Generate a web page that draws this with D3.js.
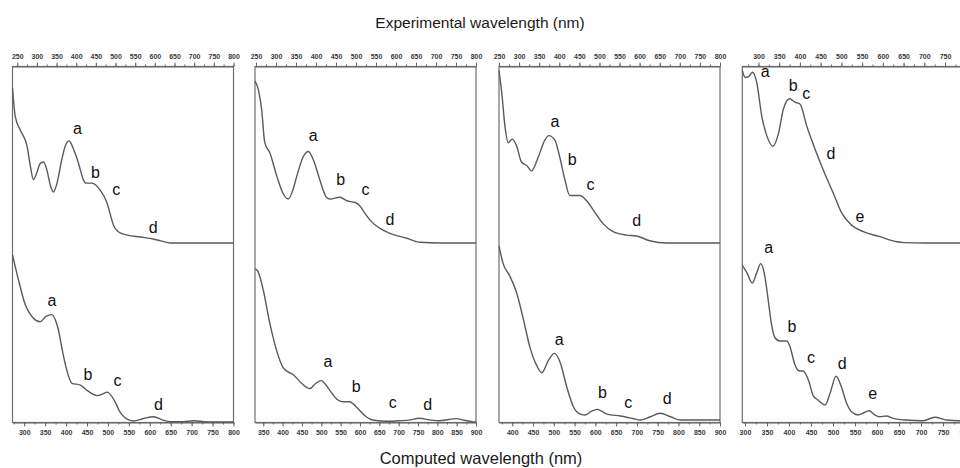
<!DOCTYPE html>
<html>
<head>
<meta charset="utf-8">
<script src="https://cdn.jsdelivr.net/npm/d3@7"></script>
<style>
  body { margin: 0; background: #fff; }
  svg { display: block; font-family: "Liberation Sans", Arial, sans-serif; }
  .axis path, .axis line { stroke: #666; }
  .axis text { fill: #3a3a3a; font-size: 7px; font-weight: bold; }
</style>
</head>
<body>
<div id="chart"></div>
<script>
// Wavelength windows of each panel (nm): experimental on top, computed below
var expDomains = [[238, 800], [247.5, 800], [250, 800], [261, 794]];
var compDomains = [[272, 800], [328.6, 900], [368, 900], [294, 796]];

// Tick labels
var expTicks1 = [250, 300, 350, 400, 450, 500, 550, 600, 650, 700, 750, 800];
var expTicks2 = [250, 300, 350, 400, 450, 500, 550, 600, 650, 700, 750, 800];
var expTicks3 = [250, 300, 350, 400, 450, 500, 550, 600, 650, 700, 750, 800];
var expTicks4 = [300, 350, 400, 450, 500, 550, 600, 650, 700, 750, 800];
var compTicks1 = [300, 350, 400, 450, 500, 550, 600, 650, 700, 750, 800];
var compTicks2 = [350, 400, 450, 500, 550, 600, 650, 700, 750, 800, 850, 900];
var compTicks3 = [400, 450, 500, 550, 600, 650, 700, 750, 800, 850, 900];
var compTicks4 = [300, 350, 400, 450, 500, 550, 600, 650, 700, 750, 800];

// Spectra: [wavelength nm, relative absorbance]
var exp1 = [[238, .88], [245, .72], [258, .64], [275, .55], [284, .43], [291, .36], [300, .40], [308, .45],
  [317, .46], [326, .41], [334, .33], [342, .29], [350, .33], [362, .46], [372, .55], [382, .58], [392, .54],
  [402, .48], [410, .42], [418, .36], [425, .34], [440, .34], [461, .30], [478, .23], [487, .16], [495, .10],
  [504, .07], [512, .057], [530, .045], [563, .034], [596, .023], [615, .012], [640, 0], [800, 0]];
var comp1 = [[272, .95], [286, .81], [302, .67], [322, .59], [338, .57], [352, .60], [366, .61], [376, .57],
  [382, .52], [390, .42], [398, .33], [406, .26], [414, .22], [434, .21], [450, .18], [474, .15], [488, .16],
  [498, .17], [508, .15], [518, .11], [528, .06], [538, .03], [561, .006], [585, .02], [609, .03], [630, .012],
  [649, .002], [680, .002], [705, .007], [730, .002], [752, 0], [800, 0]];
var exp2 = [[247.5, .92], [256, .87], [264, .76], [272, .57], [285, .51], [302, .38], [318, .28], [331, .25],
  [342, .30], [352, .38], [368, .49], [381, .52], [390, .49], [397, .45], [408, .37], [418, .30], [426, .26],
  [435, .25], [460, .26], [477, .24], [498, .23], [510, .21], [522, .17], [535, .13], [560, .083], [585, .055],
  [627, .027], [660, .004], [710, 0], [800, 0]];
var comp2 = [[329, .87], [335, .86], [342, .82], [350, .75], [367, .56], [384, .41], [401, .31], [414, .285],
  [427, .27], [449, .22], [470, .19], [486, .22], [500, .235], [512, .21], [522, .18], [543, .125], [558, .115],
  [573, .115], [584, .10], [594, .078], [616, .03], [633, .011], [670, .004], [702, .007], [730, .012],
  [753, .021], [780, .012], [805, .007], [830, .014], [848, .019], [870, .01], [890, .002], [900, 0]];
var exp3 = [[250, .98], [257, .85], [265, .66], [273, .57], [283, .59], [294, .55], [306, .46], [319, .44],
  [331, .41], [348, .49], [364, .585], [374, .61], [389, .585], [401, .49], [414, .36], [426, .27], [451, .27],
  [468, .24], [484, .19], [509, .11], [534, .064], [567, .045], [592, .04], [625, .013], [666, 0], [800, 0]];
var comp3 = [[368, 1.0], [378, .90], [394, .83], [411, .73], [427, .58], [443, .42], [459, .32], [471, .28],
  [487, .35], [501, .39], [515, .34], [531, .20], [547, .087], [564, .045], [576, .04], [590, .06], [604, .072],
  [616, .06], [628, .045], [660, .034], [690, .02], [708, .011], [732, .03], [756, .05], [781, .03],
  [805, .011], [845, .011], [900, .011]];
var exp4 = [[261, .98], [268, .94], [276, .945], [285.5, .97], [296, .91], [308, .72], [320, .61], [335, .55],
  [348, .62], [360, .76], [375, .82], [388, .80], [400, .79], [417, .66], [437, .53], [457, .41], [481, .28],
  [501, .17], [521, .11], [553, .064], [593, .036], [634, .007], [650, .002], [700, 0], [794, 0]];
var comp4 = [[294, .89], [304, .85], [317, .79], [327, .85], [336, .90], [345, .83], [353, .69], [360, .56],
  [368, .48], [379, .46], [395, .46], [402, .43], [413, .33], [420, .295], [425, .29], [432, .29], [444, .24],
  [455, .15], [466, .125], [482, .097], [493, .16], [507, .26], [519, .20], [531, .106], [542, .058],
  [557, .04], [568, .05], [582, .064], [595, .04], [606, .03], [621, .034], [637, .021], [667, .011],
  [705, .007], [731, .027], [758, .011], [788, .007], [796, .007]];

// Band letters: [letter, wavelength, absorbance]
var expLabels1 = [["a", 403, .65], ["b", 449, .40], ["c", 502, .30], ["d", 596, .085]];
var compLabels1 = [["a", 366, .69], ["b", 452, .27], ["c", 523, .235], ["d", 621, .097]];
var expLabels2 = [["a", 393, .61], ["b", 462, .36], ["c", 524, .30], ["d", 585, .13]];
var compLabels2 = [["a", 517, .34], ["b", 590, .20], ["c", 685, .106], ["d", 775, .10]];
var expLabels3 = [["a", 389, .69], ["b", 432, .475], ["c", 478, .33], ["d", 593, .125]];
var compLabels3 = [["a", 513, .466], ["b", 617, .167], ["c", 679, .11], ["d", 773, .13]];
var expLabels4 = [["a", 316, .97], ["b", 384, .89], ["c", 415, .845], ["d", 475, .506], ["e", 545, .15]];
var compLabels4 = [["a", 354, .99], ["b", 407, .54], ["c", 450, .365], ["d", 521, .33], ["e", 590, .157]];

var panels = [
  { exp: exp1, comp: comp1, expTicks: expTicks1, compTicks: compTicks1, expLabels: expLabels1, compLabels: compLabels1 },
  { exp: exp2, comp: comp2, expTicks: expTicks2, compTicks: compTicks2, expLabels: expLabels2, compLabels: compLabels2 },
  { exp: exp3, comp: comp3, expTicks: expTicks3, compTicks: compTicks3, expLabels: expLabels3, compLabels: compLabels3 },
  { exp: exp4, comp: comp4, expTicks: expTicks4, compTicks: compTicks4, expLabels: expLabels4, compLabels: compLabels4 }
];

var svgWidth = 960;
var svgHeight = 468;

// frame geometry
var frameTop = 66.5;
var frameBottom = 422.5;
var panelWidth = 221;
var panelLefts = [12.5, 255, 499, 742.3];

var svg = d3.select("#chart")
  .append("svg")
  .attr("width", svgWidth)
  .attr("height", svgHeight);

// each half of the frame gets its own absorbance scale
var yExp = d3.scaleLinear().domain([0, 1]).range([243, 67]);
var yComp = d3.scaleLinear().domain([0, 1]).range([422, 246]);

function minorTicks(domain) {
  return d3.range(Math.ceil(domain[0] / 25) * 25, domain[1] + 0.1, 25);
}

function drawAxis(g, axisFn, scale, labels, domain) {
  // minor ticks every 25 nm
  g.append("g")
    .attr("class", "axis")
    .call(axisFn(scale).tickValues(minorTicks(domain)).tickSize(2).tickFormat(""))
    .call(a => a.select(".domain").remove());
  g.append("g")
    .attr("class", "axis")
    .call(axisFn(scale).tickValues(labels).tickSize(4).tickSizeOuter(0).tickPadding(4));
}

panels.forEach(function(p, i) {
  var left = panelLefts[i];
  var xExp = d3.scaleLinear().domain(expDomains[i]).range([left, left + panelWidth]);
  var xComp = d3.scaleLinear().domain(compDomains[i]).range([left, left + panelWidth]);

  var g = svg.append("g");

  g.append("rect")
    .attr("x", left)
    .attr("y", frameTop)
    .attr("width", panelWidth)
    .attr("height", frameBottom - frameTop)
    .attr("fill", "none")
    .attr("stroke", "#6e6e6e")
    .attr("stroke-width", 1.2);

  var topAxis = g.append("g").attr("transform", `translate(0, ${frameTop})`);
  drawAxis(topAxis, d3.axisTop, xExp, p.expTicks, expDomains[i]);
  topAxis.selectAll("text").attr("dy", "0.1em");

  var bottomAxis = g.append("g").attr("transform", `translate(0, ${frameBottom})`);
  drawAxis(bottomAxis, d3.axisBottom, xComp, p.compTicks, compDomains[i]);

  var expLine = d3.line()
    .x(d => xExp(d[0]))
    .y(d => yExp(d[1]))
    .curve(d3.curveMonotoneX);
  var compLine = d3.line()
    .x(d => xComp(d[0]))
    .y(d => yComp(d[1]))
    .curve(d3.curveMonotoneX);

  g.append("path")
    .datum(p.exp)
    .attr("d", expLine)
    .attr("fill", "none")
    .attr("stroke", "#5a5a5a")
    .attr("stroke-width", 1.4);

  g.append("path")
    .datum(p.comp)
    .attr("d", compLine)
    .attr("fill", "none")
    .attr("stroke", "#5a5a5a")
    .attr("stroke-width", 1.4);

  // band letters
  g.selectAll(null)
    .data(p.expLabels)
    .enter()
    .append("text")
    .attr("x", d => xExp(d[1]))
    .attr("y", d => yExp(d[2]))
    .attr("dy", "0.32em")
    .attr("text-anchor", "middle")
    .attr("font-size", "16px")
    .attr("fill", "#111")
    .text(d => d[0]);

  g.selectAll(null)
    .data(p.compLabels)
    .enter()
    .append("text")
    .attr("x", d => xComp(d[1]))
    .attr("y", d => yComp(d[2]))
    .attr("dy", "0.32em")
    .attr("text-anchor", "middle")
    .attr("font-size", "16px")
    .attr("fill", "#111")
    .text(d => d[0]);
});

// axis titles
svg.append("text")
  .attr("x", 480)
  .attr("y", 28)
  .attr("text-anchor", "middle")
  .attr("font-size", "15.5px")
  .attr("fill", "#1a1a1a")
  .text("Experimental wavelength (nm)");

svg.append("text")
  .attr("x", 481)
  .attr("y", 464)
  .attr("text-anchor", "middle")
  .attr("font-size", "16.5px")
  .attr("fill", "#1a1a1a")
  .text("Computed wavelength (nm)");
</script>
</body>
</html>
